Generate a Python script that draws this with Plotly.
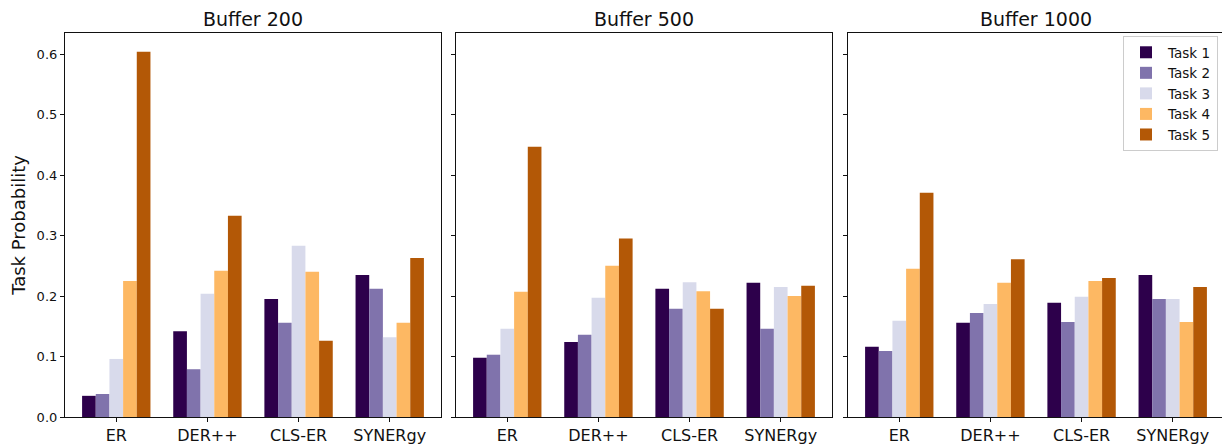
import plotly.graph_objects as go
from plotly.subplots import make_subplots

METHODS = ["ER", "DER++", "CLS-ER", "SYNERgy"]
TASKS = ["Task 1", "Task 2", "Task 3", "Task 4", "Task 5"]
BUFFERS = ["Buffer 200", "Buffer 500", "Buffer 1000"]
COLORS = ["#2d004b", "#8073ac", "#d8daeb", "#fdb863", "#b35806"]

# rows: task, columns: method
buf200 = [
    [0.035, 0.142, 0.195, 0.235],
    [0.038, 0.079, 0.156, 0.212],
    [0.096, 0.204, 0.283, 0.132],
    [0.225, 0.242, 0.240, 0.156],
    [0.604, 0.333, 0.126, 0.263],
]
buf500 = [
    [0.098, 0.124, 0.212, 0.222],
    [0.103, 0.136, 0.179, 0.146],
    [0.146, 0.197, 0.223, 0.215],
    [0.207, 0.250, 0.208, 0.200],
    [0.447, 0.295, 0.179, 0.217],
]
buf1000 = [
    [0.116, 0.156, 0.189, 0.235],
    [0.109, 0.172, 0.157, 0.195],
    [0.159, 0.187, 0.199, 0.195],
    [0.245, 0.222, 0.225, 0.157],
    [0.371, 0.261, 0.230, 0.215],
]
PANELS = [buf200, buf500, buf1000]

FONT = "DejaVu Sans, sans-serif"
INK = "#111111"

# page body has an 8px margin, so the figure is sized to fit the window
W, H = 1222, 438

fig = make_subplots(rows=1, cols=3, shared_yaxes=True)

for col, data in enumerate(PANELS, start=1):
    for i, task in enumerate(TASKS):
        fig.add_trace(
            go.Bar(
                x=METHODS,
                y=data[i],
                name=task,
                legendgroup=task,
                showlegend=(col == 3),
                marker=dict(color=COLORS[i], line_width=0),
            ),
            row=1,
            col=col,
        )

px_cols = [(57, 433), (448, 824), (840, 1216)]
domains = [[a / W, b / W] for a, b in px_cols]
ydom = [1 - 409 / H, 1 - 25 / H]

axis_style = dict(
    showline=True,
    linecolor=INK,
    linewidth=1.2,
    mirror=True,
    ticks="outside",
    ticklen=4,
    tickcolor=INK,
    showgrid=False,
    zeroline=False,
    automargin=False,
)

for k in range(3):
    sfx = "" if k == 0 else str(k + 1)
    fig.layout["xaxis" + sfx].update(
        domain=domains[k], range=[-0.5625, 3.5625],
        tickfont=dict(size=16, color=INK), **axis_style,
    )
    fig.layout["yaxis" + sfx].update(
        domain=ydom,
        range=[0, 0.635],
        tickvals=[0, 0.1, 0.2, 0.3, 0.4, 0.5, 0.6],
        tickformat=".1f",
        showticklabels=(k == 0),
        tickfont=dict(size=13, color=INK),
        **axis_style,
    )
    fig.add_annotation(
        text=BUFFERS[k],
        x=(domains[k][0] + domains[k][1]) / 2,
        y=ydom[1],
        xref="paper",
        yref="paper",
        xanchor="center",
        yanchor="bottom",
        yshift=1,
        showarrow=False,
        font=dict(size=19, color=INK),
    )

fig.update_yaxes(title_text="Task Probability", title_font=dict(size=18, color=INK), title_standoff=12, row=1, col=1)

fig.update_layout(
    width=W,
    height=H,
    margin=dict(l=0, r=0, t=0, b=0),
    paper_bgcolor="white",
    plot_bgcolor="white",
    font=dict(family=FONT, color=INK),
    barmode="group",
    bargap=0.25,
    bargroupgap=0,
    legend=dict(
        x=1210 / W,
        y=1 - 28 / H,
        xanchor="right",
        yanchor="top",
        bgcolor="white",
        bordercolor="#cccccc",
        borderwidth=1,
        font=dict(size=13.5),
        tracegroupgap=0,
        itemwidth=34,
    ),
)

fig.write_html("out.html")
